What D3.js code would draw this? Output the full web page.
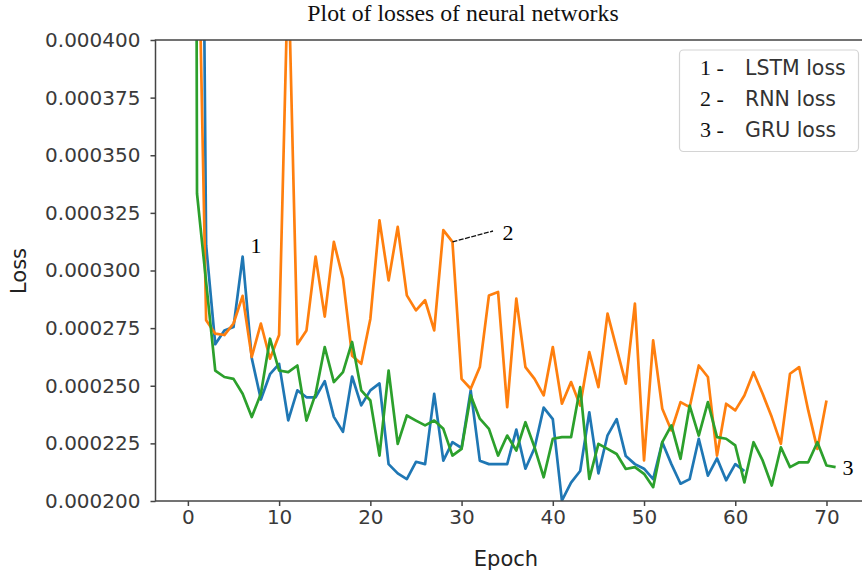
<!DOCTYPE html>
<html>
<head>
<meta charset="utf-8">
<script src="https://cdn.jsdelivr.net/npm/d3@7"></script>
<style>
  body { margin: 0; background: #fff; }
  svg { display: block; }
</style>
</head>
<body>
<svg id="chart"></svg>
<script>
// losses, in units of 1e-6 (first epochs go far above the plot and get clipped)
var lstmLoss = [1500, 780, 311, 268, 274, 275.5, 306, 262, 244, 255,
  259.5, 235, 248, 245, 245, 252, 236.5, 230, 254, 241.5,
  248, 251, 216, 212, 209.5, 217, 216, 246.5, 217.5, 225.5,
  223, 248, 217.5, 216, 216, 216, 231, 214, 223, 240.5,
  235.5, 200.2, 208, 213, 238.5, 212, 228.5, 235.5, 219.5, 216,
  214, 209.5, 225.5, 216, 207.5, 209.5, 227, 211, 218.5, 209,
  216, 213];
var rnnLoss = [1200, 481, 278.4, 272.6, 272, 277, 289, 262.5, 277, 261.7,
  272, 433, 268, 274, 306, 280, 312.4, 296.5, 263, 259.5,
  279, 321.8, 295.7, 318.9, 289.2, 282.7, 287.1, 274, 317.5, 312.4,
  253, 248.7, 258.1, 289.2, 290.7, 240.7, 287.8, 258.1, 253, 245.8,
  266.8, 242.2, 251.6, 241.4, 264.6, 249.4, 281.3, 266.1, 250.9, 285.6,
  217.6, 269.7, 240, 230.6, 242.9, 240.7, 258.8, 253.8, 219.7, 242.2,
  239.3, 245.8, 255.9, 246.5, 236.4, 224.8, 255.2, 258.1, 239.3, 222.6,
  243.6];
var gruLoss = [2000, 333.4, 295, 256.6, 253.8, 253, 246.5, 236.4, 246.5, 270.4,
  256.6, 255.9, 258.8, 234.9, 246.5, 266.8, 251.6, 255.9, 269, 248,
  243.6, 219.7, 256.6, 224.8, 237.1, 234.9, 232.8, 234.9, 231.3, 219.7,
  222.6, 245.8, 235.7, 231.3, 219.7, 228.4, 221.9, 234.2, 223.3, 210.3,
  227, 227.7, 227.7, 249.4, 209.6, 224.8, 222.6, 220.4, 213.9, 214.7,
  211.8, 206, 225.5, 232.8, 218.3, 241.4, 228.4, 242.9, 227.7, 227,
  224.1, 208.1, 225.5, 217.6, 206.7, 223.3, 214.7, 216.8, 216.8, 225.5,
  215.4, 214.7];

var seriesNames = ["LSTM loss", "RNN loss", "GRU loss"];
var seriesKeys = ["1 -", "2 -", "3 -"];
var xTicks = [0, 10, 20, 30, 40, 50, 60, 70];
var yTicks = [0.0002, 0.000225, 0.00025, 0.000275, 0.0003, 0.000325, 0.00035, 0.000375, 0.0004];

var svgWidth = 862, svgHeight = 576;
var plotLeft = 155.5, plotTop = 40, plotBottom = 501, plotRight = 868;
var colors = ["#1f77b4", "#ff7f0e", "#2ca02c"];

var svg = d3.select("#chart")
  .attr("width", svgWidth)
  .attr("height", svgHeight);

var xScale = d3.scaleLinear()
  .domain([-3.55, 74.55])
  .range([plotLeft, plotRight]);

var yScale = d3.scaleLinear()
  .domain([0.0002, 0.0004])
  .range([plotBottom, plotTop]);

svg.append("clipPath")
  .attr("id", "plot-clip")
  .append("rect")
  .attr("x", plotLeft)
  .attr("y", plotTop)
  .attr("width", plotRight - plotLeft)
  .attr("height", plotBottom - plotTop);

// title
svg.append("text")
  .attr("x", 463)
  .attr("y", 21)
  .attr("text-anchor", "middle")
  .style("font-family", "'Liberation Serif', 'Times New Roman', serif")
  .style("font-size", "23.8px")
  .attr("fill", "#111")
  .text("Plot of losses of neural networks");

// lines
var allSeries = [lstmLoss, rnnLoss, gruLoss];
var line = d3.line()
  .x(function (d, i) { return xScale(i); })
  .y(function (d) { return yScale(d * 1e-6); });

svg.append("g")
  .attr("clip-path", "url(#plot-clip)")
  .selectAll("path")
  .data(allSeries)
  .enter()
  .append("path")
  .attr("d", line)
  .attr("fill", "none")
  .attr("stroke", function (d, i) { return colors[i]; })
  .attr("stroke-width", 2.7)
  .attr("stroke-linejoin", "round");

// axes
var x_axis = d3.axisBottom(xScale)
  .tickValues(xTicks)
  .tickSize(5)
  .tickPadding(4);

var y_axis = d3.axisLeft(yScale)
  .tickValues(yTicks)
  .tickFormat(d3.format(".6f"))
  .tickSize(5)
  .tickPadding(10);

var gx = svg.append("g")
  .attr("transform", "translate(0," + plotBottom + ")")
  .call(x_axis);

var gy = svg.append("g")
  .attr("transform", "translate(" + plotLeft + ",0)")
  .call(y_axis);

[gx, gy].forEach(function (g) {
  g.select(".domain").remove();
  g.selectAll(".tick line").attr("stroke", "#444").attr("stroke-width", 1.5);
  g.selectAll(".tick text")
    .attr("fill", "#3a3a3a")
    .style("font-family", "'DejaVu Sans', sans-serif")
    .style("font-size", "20px");
});

// spines
svg.append("rect")
  .attr("x", plotLeft)
  .attr("y", plotTop)
  .attr("width", plotRight - plotLeft)
  .attr("height", plotBottom - plotTop)
  .attr("fill", "none")
  .attr("stroke", "#444")
  .attr("stroke-width", 1.5);

// axis labels
svg.append("text")
  .attr("x", 506)
  .attr("y", 566)
  .attr("text-anchor", "middle")
  .style("font-family", "'DejaVu Sans', sans-serif")
  .style("font-size", "21px")
  .attr("fill", "#222")
  .text("Epoch");

svg.append("text")
  .attr("transform", "translate(26,271) rotate(-90)")
  .attr("text-anchor", "middle")
  .style("font-family", "'DejaVu Sans', sans-serif")
  .style("font-size", "21px")
  .attr("fill", "#222")
  .text("Loss");

// legend
var legend = svg.append("g");
legend.append("rect")
  .attr("x", 679.5)
  .attr("y", 50)
  .attr("width", 179)
  .attr("height", 101.5)
  .attr("rx", 4)
  .attr("fill", "#fff")
  .attr("stroke", "#d4d4d4")
  .attr("stroke-width", 1.2);

var rows = legend.selectAll("g.row")
  .data(seriesNames)
  .enter()
  .append("g")
  .attr("class", "row")
  .attr("transform", function (d, i) { return "translate(0," + (75 + i * 31) + ")"; });

rows.append("text")
  .attr("x", 700)
  .style("font-family", "'Liberation Serif', 'Times New Roman', serif")
  .style("font-size", "22px")
  .attr("fill", "#111")
  .text(function (d, i) { return seriesKeys[i]; });

rows.append("text")
  .attr("x", 745)
  .style("font-family", "'DejaVu Sans', sans-serif")
  .style("font-size", "20.5px")
  .attr("fill", "#333")
  .text(function (d) { return d; });

// annotations
var serif = "'Liberation Serif', 'Times New Roman', serif";
svg.append("text")
  .attr("x", 256).attr("y", 253)
  .attr("text-anchor", "middle")
  .style("font-family", serif).style("font-size", "22px")
  .text("1");

svg.append("line")
  .attr("x1", xScale(29)).attr("y1", yScale(rnnLoss[29] * 1e-6))
  .attr("x2", 493).attr("y2", 231)
  .attr("stroke", "#111")
  .attr("stroke-width", 1.3)
  .attr("stroke-dasharray", "5,1.5");

svg.append("text")
  .attr("x", 508).attr("y", 240)
  .attr("text-anchor", "middle")
  .style("font-family", serif).style("font-size", "22px")
  .text("2");

svg.append("text")
  .attr("x", 848).attr("y", 475)
  .attr("text-anchor", "middle")
  .style("font-family", serif).style("font-size", "22px")
  .text("3");
</script>
</body>
</html>
